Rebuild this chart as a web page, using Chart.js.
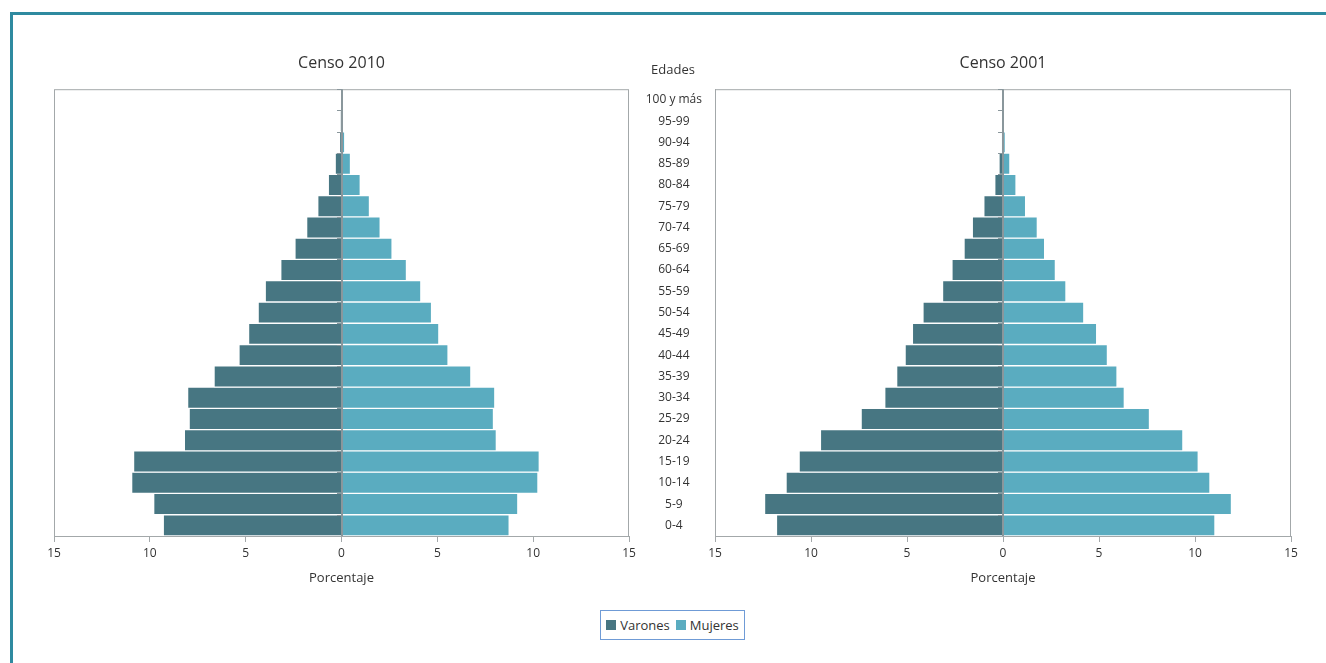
<!DOCTYPE html>
<html>
<head>
<meta charset="utf-8">
<script src="https://cdn.jsdelivr.net/npm/chart.js@4.4.1/dist/chart.umd.min.js"></script>
<style>
    body { margin: 0; width: 1326px; height: 663px; overflow: hidden; background: #fff; position: relative; font-family: 'Open Sans', sans-serif; color: #333; }
    #frame { position: absolute; left: 10px; top: 12px; right: -5px; bottom: -10px; border-top: 3px solid #2f8aa0; border-left: 3px solid #2f8aa0; }
    .box { position: absolute; top: 0; height: 600px; }
    #left-box { left: 0; width: 640px; }
    #right-box { left: 630px; width: 696px; }
    #edades { position: absolute; left: 623px; width: 100px; top: 60px; text-align: center; font-size: 13px; }
    #legend { position: absolute; left: 600px; top: 610px; width: 143px; height: 28px; border: 1px solid #6f9bd6; display: flex; align-items: center; justify-content: center; font-size: 13px; }
    .item { display: flex; align-items: center; margin: 0 3px; }
    .swatch { width: 10px; height: 10px; margin-right: 4px; }
</style>
</head>
<body>
<div id="frame"></div>
<div class="box" id="left-box"><canvas id="chart-2010"></canvas></div>
<div class="box" id="right-box"><canvas id="chart-2001"></canvas></div>
<div id="edades">Edades</div>
<div id="legend"></div>
<script>
// Age groups, bottom to top
const ages = ['0-4', '5-9', '10-14', '15-19', '20-24', '25-29', '30-34', '35-39', '40-44', '45-49',
    '50-54', '55-59', '60-64', '65-69', '70-74', '75-79', '80-84', '85-89', '90-94', '95-99', '100 y más'];

// Percent of population, Censo 2010
const varones2010 = [9.3, 9.8, 10.95, 10.85, 8.2, 7.95, 8.03, 6.65, 5.35, 4.85, 4.35, 3.98, 3.17, 2.43, 1.82, 1.24, 0.69, 0.33, 0.08, 0.03, 0.01];
const mujeres2010 = [8.75, 9.2, 10.25, 10.32, 8.08, 7.93, 8.0, 6.75, 5.56, 5.08, 4.7, 4.14, 3.39, 2.64, 2.02, 1.46, 0.98, 0.47, 0.17, 0.05, 0.01];

// Percent of population, Censo 2001
const varones2001 = [11.8, 12.42, 11.3, 10.62, 9.51, 7.39, 6.16, 5.54, 5.10, 4.72, 4.17, 3.15, 2.66, 2.03, 1.6, 1.0, 0.43, 0.21, 0.05, 0.02, 0.01];
const mujeres2001 = [11.04, 11.9, 10.78, 10.17, 9.37, 7.63, 6.32, 5.94, 5.44, 4.88, 4.21, 3.28, 2.73, 2.17, 1.79, 1.18, 0.68, 0.36, 0.12, 0.04, 0.01];

const xTicks = [-15, -10, -5, 0, 5, 10, 15];
const seriesNames = ['Varones', 'Mujeres'];
const colorVarones = '#477682';
const colorMujeres = '#5aacc0';
const axisGray = '#a3a8aa';
const textColor = '#333';

Chart.defaults.font.family = "'Open Sans', sans-serif";
Chart.defaults.color = textColor;

// Plot box, zero axis and its little tick marks
const pyramidAxis = {
    id: 'pyramidAxis',
    afterDatasetsDraw(chart) {
        const { ctx, chartArea: a, scales: { x, y } } = chart;
        ctx.save();
        ctx.strokeStyle = axisGray;
        ctx.lineWidth = 1;
        ctx.strokeRect(a.left + 0.5, a.top + 0.5, a.right - a.left - 1, a.bottom - a.top);
        const x0 = Math.round(x.getPixelForValue(0));
        ctx.strokeStyle = '#8a979c';
        ctx.lineWidth = 2;
        ctx.beginPath();
        ctx.moveTo(x0, a.top);
        ctx.lineTo(x0, a.bottom);
        ctx.stroke();
        ctx.lineWidth = 1;
        const half = (y.getPixelForValue(0) - y.getPixelForValue(1)) / 2;
        ctx.beginPath();
        for (let i = 0; i < ages.length; i++) {
            const py = Math.round(y.getPixelForValue(i) - half) + 0.5;
            ctx.moveTo(x0 - 5, py);
            ctx.lineTo(x0, py);
        }
        ctx.stroke();
        ctx.restore();
    }
};

function makeChart(canvasId, title, varones, mujeres, showAges, padding) {
    const ctx = document.getElementById(canvasId).getContext('2d');
    return new Chart(ctx, {
        type: 'bar',
        data: {
            labels: ages,
            datasets: [{
                label: seriesNames[0],
                data: varones.map(v => -v),
                backgroundColor: colorVarones,
                borderColor: '#ffffff',
                borderWidth: 1,
                categoryPercentage: 1,
                barPercentage: 1
            }, {
                label: seriesNames[1],
                data: mujeres,
                backgroundColor: colorMujeres,
                borderColor: '#ffffff',
                borderWidth: 1,
                categoryPercentage: 1,
                barPercentage: 1
            }]
        },
        options: {
            indexAxis: 'y',
            responsive: true,
            maintainAspectRatio: false,
            animation: false,
            layout: { padding: padding },
            plugins: {
                legend: { display: false },
                tooltip: { enabled: false },
                title: {
                    display: true,
                    fullSize: false,
                    text: title,
                    color: textColor,
                    font: { size: 16, weight: 'normal' },
                    padding: { top: 54, bottom: 16 }
                }
            },
            scales: {
                x: {
                    stacked: true,
                    min: -15,
                    max: 15,
                    afterBuildTicks: scale => { scale.ticks = xTicks.map(v => ({ value: v })); },
                    afterFit: scale => { scale.height = 64; },
                    ticks: {
                        callback: v => Math.abs(v),
                        font: { size: 12 },
                        padding: 4,
                        maxRotation: 0
                    },
                    grid: { drawOnChartArea: false, color: axisGray, tickLength: 6 },
                    border: { color: axisGray },
                    title: {
                        display: true,
                        text: 'Porcentaje',
                        font: { size: 13 },
                        padding: { top: 4, bottom: 14 }
                    }
                },
                y: {
                    stacked: true,
                    reverse: true,
                    display: showAges,
                    afterFit: scale => { scale.width = showAges ? 85 : 0; },
                    ticks: { font: { size: 12 }, padding: 13, crossAlign: 'center', autoSkip: false },
                    grid: { display: false, drawTicks: false },
                    border: { color: axisGray }
                }
            }
        },
        plugins: [pyramidAxis]
    });
}

makeChart('chart-2010', 'Censo 2010', varones2010, mujeres2010, false, { left: 54, right: 11, top: 0, bottom: 0 });
makeChart('chart-2001', 'Censo 2001', varones2001, mujeres2001, true, { left: 0, right: 35, top: 0, bottom: 0 });

// Shared legend
const legend = document.getElementById('legend');
[colorVarones, colorMujeres].forEach((c, i) => {
    const item = document.createElement('div');
    item.className = 'item';
    item.innerHTML = `<span class="swatch" style="background:${c}"></span>${seriesNames[i]}`;
    legend.appendChild(item);
});
</script>
</body>
</html>
